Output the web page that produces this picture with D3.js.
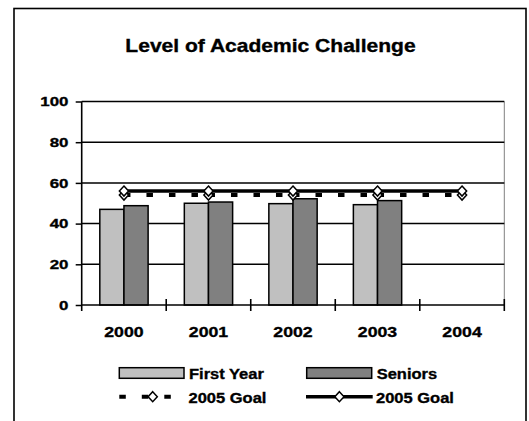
<!DOCTYPE html>
<html>
<head>
<meta charset="utf-8">
<script src="https://cdn.jsdelivr.net/npm/d3@7"></script>
<style>
  html, body { margin: 0; padding: 0; background: #fff; }
  svg { display: block; }
  text { font-family: "Liberation Sans", Arial, Helvetica, sans-serif; font-weight: bold; fill: #000; stroke: #000; stroke-width: 0.35px; }
</style>
</head>
<body>
<svg id="chart" width="529" height="421"></svg>
<script>
const title = "Level of Academic Challenge";
const years = ["2000", "2001", "2002", "2003", "2004"];
const firstYear = [47.0, 50.0, 49.8, 49.3, null];
const seniors = [48.8, 50.6, 52.2, 51.3, null];
const goalFirstYear = [54, 54, 54, 54, 54];
const goalSeniors = [56, 56, 56, 56, 56];
const yTicks = [0, 20, 40, 60, 80, 100];
const legendLabels = ["First Year", "Seniors", "2005 Goal", "2005 Goal"];

const svg = d3.select("#chart");
const plot = { left: 81.7, right: 504.3, top: 101.5, bottom: 305 };

// outer frame (continues past bottom edge)
svg.append("rect").attr("x", 14).attr("y", 8.5).attr("width", 512).attr("height", 440)
  .attr("fill", "#fff").attr("stroke", "#000").attr("stroke-width", 1.6);

function txt(g, x, y, s, size, anchor, sx) {
  return g.append("text")
    .attr("transform", `translate(${x},${y}) scale(${sx},1)`)
    .attr("text-anchor", anchor)
    .attr("font-size", size)
    .text(s);
}

txt(svg, 270.5, 51.7, title, 18.8, "middle", 1.12);

const x = d3.scaleBand().domain(years).range([plot.left, plot.right]);
const xi = d3.scaleBand().domain(["fy", "sr"]).range([0, x.bandwidth()]).paddingInner(0).paddingOuter(0.75);
const y = d3.scaleLinear().domain([0, 100]).range([plot.bottom, plot.top]);

// right border of plot area
svg.append("line").attr("x1", plot.right).attr("x2", plot.right)
  .attr("y1", y(100)).attr("y2", y(0)).attr("stroke", "#808080").attr("stroke-width", 1);

// gridlines
svg.append("g").selectAll("line").data(yTicks.filter(d => d > 0)).join("line")
  .attr("x1", plot.left).attr("x2", plot.right)
  .attr("y1", d => y(d)).attr("y2", d => y(d))
  .attr("stroke", "#000").attr("stroke-width", 1.5);

// bars
const barData = [];
years.forEach((yr, i) => {
  if (firstYear[i] != null) barData.push({ yr, key: "fy", v: firstYear[i], fill: "#c0c0c0" });
  if (seniors[i] != null) barData.push({ yr, key: "sr", v: seniors[i], fill: "#808080" });
});
svg.append("g").selectAll("rect").data(barData).join("rect")
  .attr("x", d => x(d.yr) + xi(d.key))
  .attr("y", d => y(d.v))
  .attr("width", xi.bandwidth())
  .attr("height", d => y(0) - y(d.v))
  .attr("fill", d => d.fill)
  .attr("stroke", "#000").attr("stroke-width", 1.5);

// y axis
const yAxis = d3.axisLeft(y).tickValues(yTicks).tickSize(6).tickFormat("");
const ya = svg.append("g").attr("transform", `translate(${plot.left},0)`).call(yAxis);
ya.select(".domain").remove();
ya.selectAll(".tick line").attr("stroke", "#000").attr("stroke-width", 1.5);
svg.append("line").attr("x1", plot.left).attr("x2", plot.left)
  .attr("y1", y(100)).attr("y2", y(0) + 6).attr("stroke", "#000").attr("stroke-width", 1.6);
const yl = svg.append("g");
yTicks.forEach(t => txt(yl, 68.5, y(t) + 4.7, String(t), 13.4, "end", 1.26));

// x axis
svg.append("line").attr("x1", plot.left).attr("x2", plot.right)
  .attr("y1", y(0)).attr("y2", y(0)).attr("stroke", "#000").attr("stroke-width", 1.6);
const bounds = years.map(yr => x(yr) + x.bandwidth());
svg.append("g").selectAll("line").data(bounds).join("line")
  .attr("x1", d => d).attr("x2", d => d)
  .attr("y1", y(0) - 6).attr("y2", y(0) + 6)
  .attr("stroke", "#000").attr("stroke-width", 1.6);
const xl = svg.append("g");
years.forEach(yr => txt(xl, x(yr) + x.bandwidth() / 2, 336.7, yr, 15.4, "middle", 1.15));

// diamond path
const dw = 4.6, dh = 5;
const diamond = `M0,${-dh}L${dw},0L0,${dh}L${-dw},0Z`;
const cx = yr => x(yr) + x.bandwidth() / 2;

// dashed goal line (pattern restarts at each point)
const segs = d3.pairs(years.map((yr, i) => [cx(yr), y(goalFirstYear[i])]));
svg.append("g").selectAll("line").data(segs).join("line")
  .attr("x1", d => d[0][0]).attr("y1", d => d[0][1])
  .attr("x2", d => d[1][0]).attr("y2", d => d[1][1])
  .attr("stroke", "#000").attr("stroke-width", 4).attr("stroke-dasharray", "6.5 16");
svg.append("g").selectAll("path").data(years).join("path")
  .attr("transform", (d, i) => `translate(${cx(d)},${y(goalFirstYear[i])})`)
  .attr("d", diamond).attr("fill", "#fff").attr("stroke", "#000").attr("stroke-width", 1.5);

// solid goal line
const line = d3.line().x(d => cx(d.yr)).y(d => y(d.v));
svg.append("path").datum(years.map((yr, i) => ({ yr, v: goalSeniors[i] })))
  .attr("d", line).attr("fill", "none").attr("stroke", "#000").attr("stroke-width", 3.5);
svg.append("g").selectAll("path").data(years).join("path")
  .attr("transform", (d, i) => `translate(${cx(d)},${y(goalSeniors[i])})`)
  .attr("d", diamond).attr("fill", "#fff").attr("stroke", "#000").attr("stroke-width", 1.5);

// legend
const lg = svg.append("g");
const row1 = 373, row2 = 396.7;
lg.append("rect").attr("x", 119.3).attr("y", row1 - 5.3).attr("width", 64.7).attr("height", 10.6)
  .attr("fill", "#c0c0c0").attr("stroke", "#000").attr("stroke-width", 1.5);
txt(lg, 189, 378.8, legendLabels[0], 15, "start", 1.1);
lg.append("rect").attr("x", 306.7).attr("y", row1 - 5.3).attr("width", 65).attr("height", 10.6)
  .attr("fill", "#808080").attr("stroke", "#000").attr("stroke-width", 1.5);
txt(lg, 376.7, 378.8, legendLabels[1], 15, "start", 1.1);

lg.append("line").attr("x1", 119.3).attr("x2", 186).attr("y1", row2).attr("y2", row2)
  .attr("stroke", "#000").attr("stroke-width", 4).attr("stroke-dasharray", "6.5 16");
lg.append("path").attr("transform", `translate(152.7,${row2})`).attr("d", diamond)
  .attr("fill", "#fff").attr("stroke", "#000").attr("stroke-width", 1.5);
txt(lg, 188.5, 403.3, legendLabels[2], 15, "start", 1.1);

lg.append("line").attr("x1", 306).attr("x2", 372.7).attr("y1", row2).attr("y2", row2)
  .attr("stroke", "#000").attr("stroke-width", 3.5);
lg.append("path").attr("transform", `translate(339.4,${row2})`).attr("d", diamond)
  .attr("fill", "#fff").attr("stroke", "#000").attr("stroke-width", 1.5);
txt(lg, 376, 403.3, legendLabels[3], 15, "start", 1.1);
</script>
</body>
</html>
